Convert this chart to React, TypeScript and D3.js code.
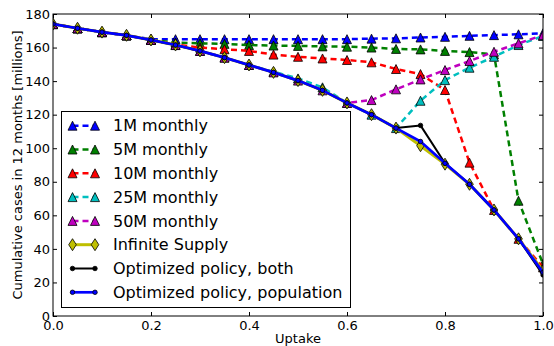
import React, { useEffect, useRef } from "react";
import * as d3 from "d3";

// uptake fraction (x axis)
const uptake = [0, 0.05, 0.1, 0.15, 0.2, 0.25, 0.3, 0.35, 0.4, 0.45, 0.5, 0.55, 0.6, 0.65, 0.7, 0.75, 0.8, 0.85, 0.9, 0.95, 1.0];

// cumulative cases in 12 months [millions]
const monthly1M = [174, 171.5, 169.2, 167.3, 165, 165, 165, 165, 165, 165, 165, 165, 165, 165.3, 165.5, 166, 166.4, 167, 167.4, 167.9, 168.5];
const monthly5M = [174, 171.5, 169.2, 167.3, 164.5, 163, 162.5, 162.2, 161.5, 161.2, 161, 160.7, 160.5, 160, 159.2, 158.9, 158, 157.3, 156, 68.7, 31];
const monthly10M = [174, 171.5, 169.2, 167.3, 164.5, 161.8, 160, 159, 158, 155.8, 154.5, 153.5, 152.6, 151.2, 147.2, 144.2, 134.7, 91.4, 63.2, 46, 29];
const monthly25M = [174, 171.5, 169.2, 167.3, 164.5, 161.5, 158, 154, 149.6, 145.6, 141.6, 136.3, 127, 120, 112, 128.3, 140.6, 148, 154.5, 161.5, 166.9];
const monthly50M = [174, 171.5, 169.2, 167.3, 164.5, 161.5, 158, 154, 149.6, 145.2, 140.3, 134.5, 127, 128.7, 135.1, 141, 146.6, 152, 157.5, 162.5, 167.4];
const infiniteSupply = [174, 171.5, 169.2, 167.3, 164.5, 161.5, 158, 154, 149.6, 145.2, 140.3, 134.5, 127, 120, 112, 101.5, 90.5, 78.5, 63.2, 46, 27];
const optimizedBoth = [174, 171.5, 169.2, 167.3, 164.5, 161.5, 158, 154, 149.6, 145.2, 140.3, 134.5, 127, 120, 112, 113.6, 91, 78.5, 63.2, 46, 24.5];
const optimizedPopulation = [174, 171.5, 169.2, 167.3, 164.5, 161.5, 158, 154, 149.6, 145.2, 140.3, 134.5, 127, 120, 112, 104, 91, 78.5, 63.2, 46, 26];

const xTicks = [0, 0.2, 0.4, 0.6, 0.8, 1.0];
const yTicks = [0, 20, 40, 60, 80, 100, 120, 140, 160, 180];

const series = [
  { name: "1M monthly", values: monthly1M, color: "#0000ff", marker: "tri", dash: "6,4", width: 2.5 },
  { name: "5M monthly", values: monthly5M, color: "#008000", marker: "tri", dash: "6,4", width: 2.5 },
  { name: "10M monthly", values: monthly10M, color: "#ff0000", marker: "tri", dash: "6,4", width: 2.5 },
  { name: "25M monthly", values: monthly25M, color: "#00bfbf", marker: "tri", dash: "6,4", width: 2.5 },
  { name: "50M monthly", values: monthly50M, color: "#bf00bf", marker: "tri", dash: "6,4", width: 2.5 },
  { name: "Infinite Supply", values: infiniteSupply, color: "#bfbf00", marker: "diamond", dash: null, width: 3 },
  { name: "Optimized policy, both", values: optimizedBoth, color: "#000000", marker: "dot", dash: null, width: 2 },
  { name: "Optimized policy, population", values: optimizedPopulation, color: "#0000ff", marker: "dot", dash: null, width: 2.7 },
];

const W = 554;
const H = 346;
const margin = { top: 14, right: 11, bottom: 30, left: 53 };
const FONT = "DejaVu Sans, sans-serif";

const markerPath = (kind: string) => {
  if (kind === "tri") return "M0,-4.5L4.5,4.5L-4.5,4.5Z";
  if (kind === "diamond") return "M0,-6L3.8,0L0,6L-3.8,0Z";
  return d3.symbol(d3.symbolCircle, 16)() as string;
};

const App = () => {
  const svgRef = useRef<SVGSVGElement>(null);

  useEffect(() => {
    const svg = d3.select(svgRef.current);
    svg.selectAll("*").remove();

    const x = d3.scaleLinear().domain([0, 1]).range([margin.left, W - margin.right]);
    const y = d3.scaleLinear().domain([0, 180]).range([H - margin.bottom, margin.top]);

    svg
      .append("clipPath")
      .attr("id", "plot-clip")
      .append("rect")
      .attr("x", margin.left)
      .attr("y", margin.top)
      .attr("width", W - margin.left - margin.right)
      .attr("height", H - margin.top - margin.bottom);

    // data series, in plotting order
    const plot = svg.append("g").attr("clip-path", "url(#plot-clip)");
    const line = d3
      .line<number>()
      .x((_, i) => x(uptake[i]))
      .y((d) => y(d));

    series.forEach((s) => {
      plot
        .append("path")
        .attr("d", line(s.values))
        .attr("fill", "none")
        .attr("stroke", s.color)
        .attr("stroke-width", s.width)
        .attr("stroke-dasharray", s.dash)
        .attr("stroke-linejoin", "round");

      plot
        .selectAll(null)
        .data(s.values)
        .enter()
        .append("path")
        .attr("d", markerPath(s.marker))
        .attr("transform", (d, i) => `translate(${x(uptake[i])},${y(d)})`)
        .attr("fill", s.color)
        .attr("stroke", "#000")
        .attr("stroke-width", 0.8);
    });

    // axes with inward ticks on all four sides
    const axisStyle = (g: any) => {
      g.select(".domain").remove();
      g.selectAll("text").attr("font-family", FONT).attr("font-size", 13).attr("fill", "#000");
      g.selectAll("line").attr("stroke", "#000");
    };
    svg
      .append("g")
      .attr("transform", `translate(0,${H - margin.bottom})`)
      .call(d3.axisBottom(x).tickValues(xTicks).tickSize(-4).tickPadding(5).tickFormat(d3.format(".1f")))
      .call(axisStyle);
    svg
      .append("g")
      .attr("transform", `translate(0,${margin.top})`)
      .call(d3.axisTop(x).tickValues(xTicks).tickSize(-4).tickFormat(() => ""))
      .call(axisStyle);
    svg
      .append("g")
      .attr("transform", `translate(${margin.left},0)`)
      .call(d3.axisLeft(y).tickValues(yTicks).tickSize(-4).tickPadding(3))
      .call(axisStyle);
    svg
      .append("g")
      .attr("transform", `translate(${W - margin.right},0)`)
      .call(d3.axisRight(y).tickValues(yTicks).tickSize(-4).tickFormat(() => ""))
      .call(axisStyle);

    svg
      .append("rect")
      .attr("x", margin.left)
      .attr("y", margin.top)
      .attr("width", W - margin.left - margin.right)
      .attr("height", H - margin.top - margin.bottom)
      .attr("fill", "none")
      .attr("stroke", "#000")
      .attr("stroke-width", 1);

    // axis labels
    svg
      .append("text")
      .attr("x", (margin.left + W - margin.right) / 2)
      .attr("y", 343)
      .attr("text-anchor", "middle")
      .attr("font-family", FONT)
      .attr("font-size", 13)
      .text("Uptake");
    svg
      .append("text")
      .attr("transform", `translate(17,${(margin.top + H - margin.bottom) / 2}) rotate(-90)`)
      .attr("dy", "0.35em")
      .attr("text-anchor", "middle")
      .attr("font-family", FONT)
      .attr("font-size", 13)
      .text("Cumulative cases in 12 months [millions]");

    // legend
    const legend = svg.append("g");
    legend
      .append("rect")
      .attr("x", 61.5)
      .attr("y", 111.5)
      .attr("width", 289)
      .attr("height", 196)
      .attr("fill", "#fff")
      .attr("stroke", "#000")
      .attr("stroke-width", 1);

    const rows = legend
      .selectAll("g.row")
      .data(series)
      .enter()
      .append("g")
      .attr("transform", (_, i) => `translate(0,${125.7 + i * 23.8})`);
    rows
      .append("line")
      .attr("x1", 72.5)
      .attr("x2", 95)
      .attr("stroke", (d) => d.color)
      .attr("stroke-width", (d) => d.width)
      .attr("stroke-dasharray", (d) => d.dash);
    [72.5, 95].forEach((mx) => {
      rows
        .append("path")
        .attr("d", (d) => markerPath(d.marker))
        .attr("transform", `translate(${mx},0)`)
        .attr("fill", (d) => d.color)
        .attr("stroke", "#000")
        .attr("stroke-width", 0.8);
    });
    rows
      .append("text")
      .attr("x", 113)
      .attr("dy", "0.35em")
      .attr("font-family", FONT)
      .attr("font-size", 16)
      .text((d) => d.name);
  }, []);

  return (
    <svg
      ref={svgRef}
      width={W}
      height={H}
      style={{ position: "absolute", left: 0, top: 0, background: "#fff" }}
    ></svg>
  );
};

export default App;
